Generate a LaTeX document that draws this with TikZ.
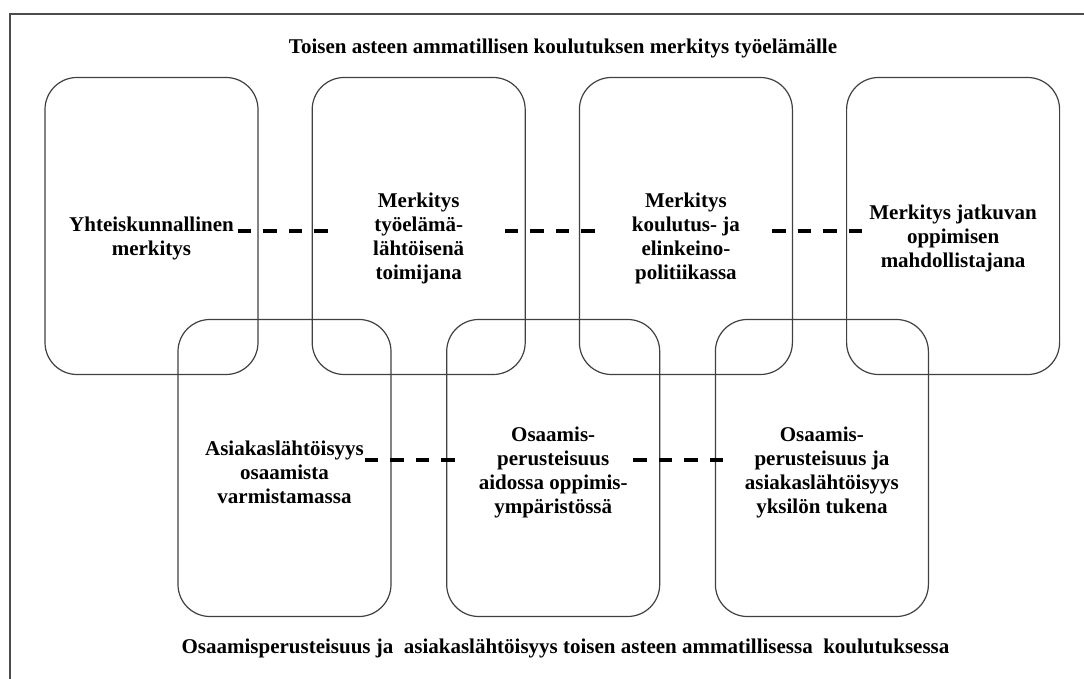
\documentclass[tikz,border=0pt]{standalone}
\usepackage{fontspec}
\setmainfont{Liberation Serif}
\usetikzlibrary{positioning}

\tikzset{
	card/.style={draw=black!75, line width=0.6pt, rounded corners=16pt, minimum width=106.5pt, minimum height=148.5pt, inner sep=0pt},
	cardtext/.style={align=center, inner sep=0pt, font=\bfseries\fontsize{10.5}{12}\selectfont},
	caption/.style={anchor=base, inner sep=0pt, font=\bfseries\fontsize{10.5}{12}\selectfont},
	link/.style={line width=2.2pt, dash pattern=on 6.75pt off 6pt, shorten <=-10.5pt, shorten >=-8.5pt}
}

\begin{document}
\begin{tikzpicture}[x=0.5pt, y=-0.5pt]
	\useasboundingbox (0,0) rectangle (1084,679);
	\draw [black!70, line width=0.75pt] (10,679) -- (10,14) -- (1084,14);
	\node [caption] (title) at (563,54) {Toisen asteen ammatillisen koulutuksen merkitys työelämälle};
	\node [caption] (foot) at (565.5,654) {Osaamisperusteisuus ja\ \ asiakaslähtöisyys toisen asteen ammatillisessa\ \ koulutuksessa};
	\node [card] (b1) at (151.5,226) {};
	\node [card, right=26.5pt of b1] (b2) {};
	\node [card, right=26.5pt of b2] (b3) {};
	\node [card, right=26.5pt of b3] (b4) {};
	\node [card] (b5) at (284.5,468) {};
	\node [card, right=27.25pt of b5] (b6) {};
	\node [card, right=27.25pt of b6] (b7) {};
	\node [cardtext] (t1) at ([yshift=-6pt]b1.center) {Yhteiskunnallinen\\merkitys};
	\node [cardtext] (t2) at ([yshift=-6pt]b2.center) {Merkitys\\työelämä-\\lähtöisenä\\toimijana};
	\node [cardtext] (t3) at ([yshift=-6pt]b3.center) {Merkitys\\koulutus- ja\\elinkeino-\\politiikassa};
	\node [cardtext] (t4) at ([yshift=-6pt]b4.center) {Merkitys jatkuvan\\oppimisen\\mahdollistajana};
	\node [cardtext] (t5) at ([yshift=-2pt]b5.center) {Asiakaslähtöisyys\\osaamista\\varmistamassa};
	\node [cardtext] (t6) at ([yshift=-2pt]b6.center) {Osaamis-\\perusteisuus\\aidossa oppimis-\\ympäristössä};
	\node [cardtext] (t7) at ([yshift=-2pt]b7.center) {Osaamis-\\perusteisuus ja\\asiakaslähtöisyys\\yksilön tukena};
	\draw [link] ([yshift=-2.5pt]b1.east) -- ([yshift=-2.5pt]b2.west);
	\draw [link] ([yshift=-2.5pt]b2.east) -- ([yshift=-2.5pt]b3.west);
	\draw [link] ([yshift=-2.5pt]b3.east) -- ([yshift=-2.5pt]b4.west);
	\draw [link, shorten <=-13.5pt, shorten >=-5pt] ([yshift=4pt]b5.east) -- ([yshift=4pt]b6.west);
	\draw [link, shorten <=-13.5pt, shorten >=-5pt] ([yshift=4pt]b6.east) -- ([yshift=4pt]b7.west);
\end{tikzpicture}
\end{document}
